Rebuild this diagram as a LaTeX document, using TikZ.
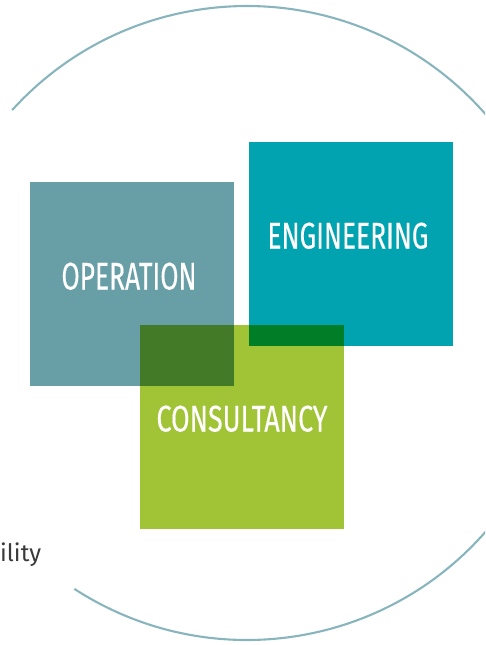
\documentclass[tikz,border=0pt]{standalone}
\usepackage{fontspec}
\setmainfont{Fira Sans}
\newfontfamily\labelfont[FakeBold=0.4]{Fira Sans}
\newfontfamily\bodyfont{Fira Sans}
\definecolor{opcol}{HTML}{689FA7}
\definecolor{engcol}{HTML}{00A3AF}
\definecolor{concol}{HTML}{A0C435}
\definecolor{ovlone}{HTML}{437A27}
\definecolor{ovltwo}{HTML}{007D27}
\definecolor{ringcol}{HTML}{88B5BD}
\definecolor{textgray}{HTML}{3A3A3A}
\begin{document}
\begin{tikzpicture}[x=1pt,y=-1pt,
  boxlabel/.style={text=white, inner sep=0pt, anchor=base}]
\useasboundingbox (0,0) rectangle (485,645);
\begin{scope}
\clip (0,0) rectangle (485,645);
\draw[ringcol, line width=2.1pt] (247,323) ++(222.2:317) arc[start angle=222.2, end angle=483, radius=317];
\end{scope}
% squares
\fill[opcol] (30,182) rectangle (234,386);
\fill[engcol] (249,142) rectangle (453,346);
\fill[concol] (140,325) rectangle (344,529);
% overlaps
\fill[ovlone] (140,325) rectangle (234,386);
\fill[ovltwo] (249,325) rectangle (344,346);
% labels
\node[boxlabel] (op) at (129,289.5) {\resizebox{135pt}{27pt}{\labelfont OPERATION}};
\node[boxlabel] (eng) at (348,248.5) {\resizebox{161pt}{26pt}{\labelfont ENGINEERING}};
\node[boxlabel] (con) at (242,431.5) {\resizebox{171pt}{26pt}{\labelfont CONSULTANCY}};
\node[inner sep=0pt, anchor=base west, text=textgray, font=\bodyfont\fontsize{24}{28}\selectfont] (ility) at (0,561) {ility};
\end{tikzpicture}
\end{document}
